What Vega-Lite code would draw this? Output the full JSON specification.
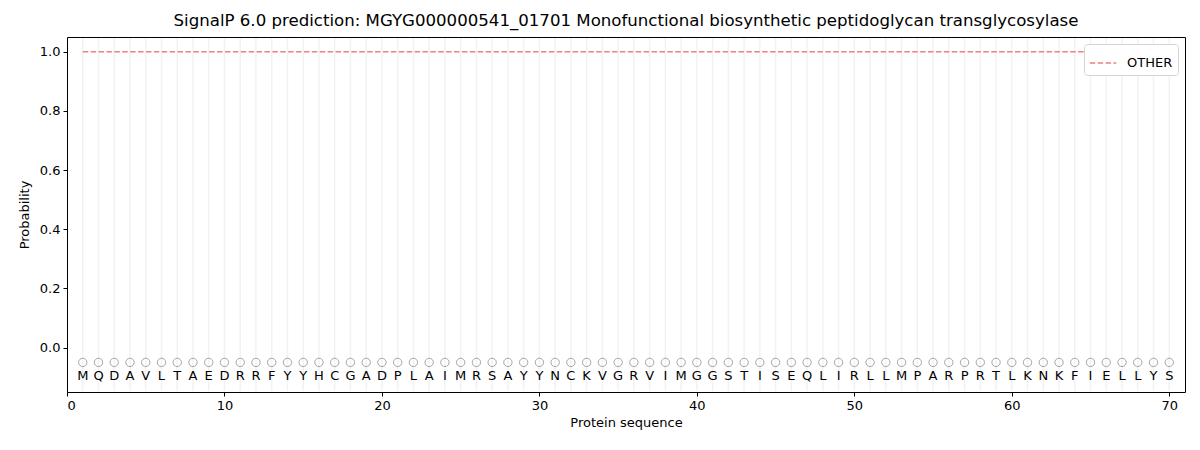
{
  "$schema": "https://vega.github.io/schema/vega-lite/v6.json",
  "width": 1118,
  "height": 355,
  "autosize": {"type": "none"},
  "padding": {"left": 67, "top": 37, "right": 15, "bottom": 58},
  "background": "white",
  "config": {
    "font": "DejaVu Sans",
    "view": {"stroke": "black", "strokeWidth": 1},
    "axis": {"domain": false, "labelFont": "DejaVu Sans", "titleFont": "DejaVu Sans", "labelFontSize": 13, "titleFontSize": 13, "labelColor": "black", "titleColor": "black", "tickColor": "black", "tickSize": 4, "grid": false, "titleFontWeight": "normal"}
  },
  "title": {"text": "SignalP 6.0 prediction: MGYG000000541_01701 Monofunctional biosynthetic peptidoglycan transglycosylase", "fontSize": 16.6, "fontWeight": "normal", "font": "DejaVu Sans", "color": "black", "offset": 7},
  "data": {"values": [
    {"pos":1,"aa":"M","other":1.0},{"pos":2,"aa":"Q","other":1.0},{"pos":3,"aa":"D","other":1.0},{"pos":4,"aa":"A","other":1.0},{"pos":5,"aa":"V","other":1.0},
    {"pos":6,"aa":"L","other":1.0},{"pos":7,"aa":"T","other":1.0},{"pos":8,"aa":"A","other":1.0},{"pos":9,"aa":"E","other":1.0},{"pos":10,"aa":"D","other":1.0},
    {"pos":11,"aa":"R","other":1.0},{"pos":12,"aa":"R","other":1.0},{"pos":13,"aa":"F","other":1.0},{"pos":14,"aa":"Y","other":1.0},{"pos":15,"aa":"Y","other":1.0},
    {"pos":16,"aa":"H","other":1.0},{"pos":17,"aa":"C","other":1.0},{"pos":18,"aa":"G","other":1.0},{"pos":19,"aa":"A","other":1.0},{"pos":20,"aa":"D","other":1.0},
    {"pos":21,"aa":"P","other":1.0},{"pos":22,"aa":"L","other":1.0},{"pos":23,"aa":"A","other":1.0},{"pos":24,"aa":"I","other":1.0},{"pos":25,"aa":"M","other":1.0},
    {"pos":26,"aa":"R","other":1.0},{"pos":27,"aa":"S","other":1.0},{"pos":28,"aa":"A","other":1.0},{"pos":29,"aa":"Y","other":1.0},{"pos":30,"aa":"Y","other":1.0},
    {"pos":31,"aa":"N","other":1.0},{"pos":32,"aa":"C","other":1.0},{"pos":33,"aa":"K","other":1.0},{"pos":34,"aa":"V","other":1.0},{"pos":35,"aa":"G","other":1.0},
    {"pos":36,"aa":"R","other":1.0},{"pos":37,"aa":"V","other":1.0},{"pos":38,"aa":"I","other":1.0},{"pos":39,"aa":"M","other":1.0},{"pos":40,"aa":"G","other":1.0},
    {"pos":41,"aa":"G","other":1.0},{"pos":42,"aa":"S","other":1.0},{"pos":43,"aa":"T","other":1.0},{"pos":44,"aa":"I","other":1.0},{"pos":45,"aa":"S","other":1.0},
    {"pos":46,"aa":"E","other":1.0},{"pos":47,"aa":"Q","other":1.0},{"pos":48,"aa":"L","other":1.0},{"pos":49,"aa":"I","other":1.0},{"pos":50,"aa":"R","other":1.0},
    {"pos":51,"aa":"L","other":1.0},{"pos":52,"aa":"L","other":1.0},{"pos":53,"aa":"M","other":1.0},{"pos":54,"aa":"P","other":1.0},{"pos":55,"aa":"A","other":1.0},
    {"pos":56,"aa":"R","other":1.0},{"pos":57,"aa":"P","other":1.0},{"pos":58,"aa":"R","other":1.0},{"pos":59,"aa":"T","other":1.0},{"pos":60,"aa":"L","other":1.0},
    {"pos":61,"aa":"K","other":1.0},{"pos":62,"aa":"N","other":1.0},{"pos":63,"aa":"K","other":1.0},{"pos":64,"aa":"F","other":1.0},{"pos":65,"aa":"I","other":1.0},
    {"pos":66,"aa":"E","other":1.0},{"pos":67,"aa":"L","other":1.0},{"pos":68,"aa":"L","other":1.0},{"pos":69,"aa":"Y","other":1.0},{"pos":70,"aa":"S","other":1.0}
  ]},
  "layer": [
    {
      "mark": {"type": "rule", "color": "#f2f2f2", "strokeWidth": 1.5},
      "encoding": {
        "x": {"field": "pos", "type": "quantitative", "scale": {"domain": [0, 71], "nice": false, "zero": false},
              "axis": {"values": [0,10,20,30,40,50,60,70], "title": "Protein sequence", "format": "d", "titlePadding": 4, "labelPadding": 3}},
        "y": {"datum": -0.147, "type": "quantitative", "scale": {"domain": [-0.15, 1.05], "nice": false, "zero": false},
              "axis": {"values": [0, 0.2, 0.4, 0.6, 0.8, 1.0], "format": ".1f", "title": "Probability", "titlePadding": 8, "labelPadding": 3}},
        "y2": {"datum": 1.047}
      }
    },
    {
      "mark": {"type": "point", "shape": "circle", "filled": false, "stroke": "#808080", "strokeWidth": 1, "size": 70},
      "encoding": {
        "x": {"field": "pos", "type": "quantitative"},
        "y": {"datum": -0.05, "type": "quantitative"}
      }
    },
    {
      "mark": {"type": "text", "fontSize": 13, "color": "black", "baseline": "middle", "font": "DejaVu Sans"},
      "encoding": {
        "x": {"field": "pos", "type": "quantitative"},
        "y": {"datum": -0.097, "type": "quantitative"},
        "text": {"field": "aa"}
      }
    },
    {
      "transform": [{"calculate": "'OTHER'", "as": "series"}],
      "mark": {"type": "line", "strokeDash": [5.5, 2.4], "strokeWidth": 1.5},
      "encoding": {
        "x": {"field": "pos", "type": "quantitative"},
        "y": {"field": "other", "type": "quantitative"},
        "color": {"field": "series", "type": "nominal", "scale": {"range": ["#f07f7f"]},
                  "legend": {"title": null, "orient": "top-right", "offset": 7, "labelFontSize": 13, "labelFont": "DejaVu Sans", "labelColor": "black", "symbolType": "stroke", "symbolSize": 700, "symbolStrokeWidth": 1.5, "symbolDash": [5.5, 2.4], "labelOffset": 10, "strokeColor": "#d5d5d5", "fillColor": "white", "padding": 5, "cornerRadius": 3}}
      }
    }
  ]
}
